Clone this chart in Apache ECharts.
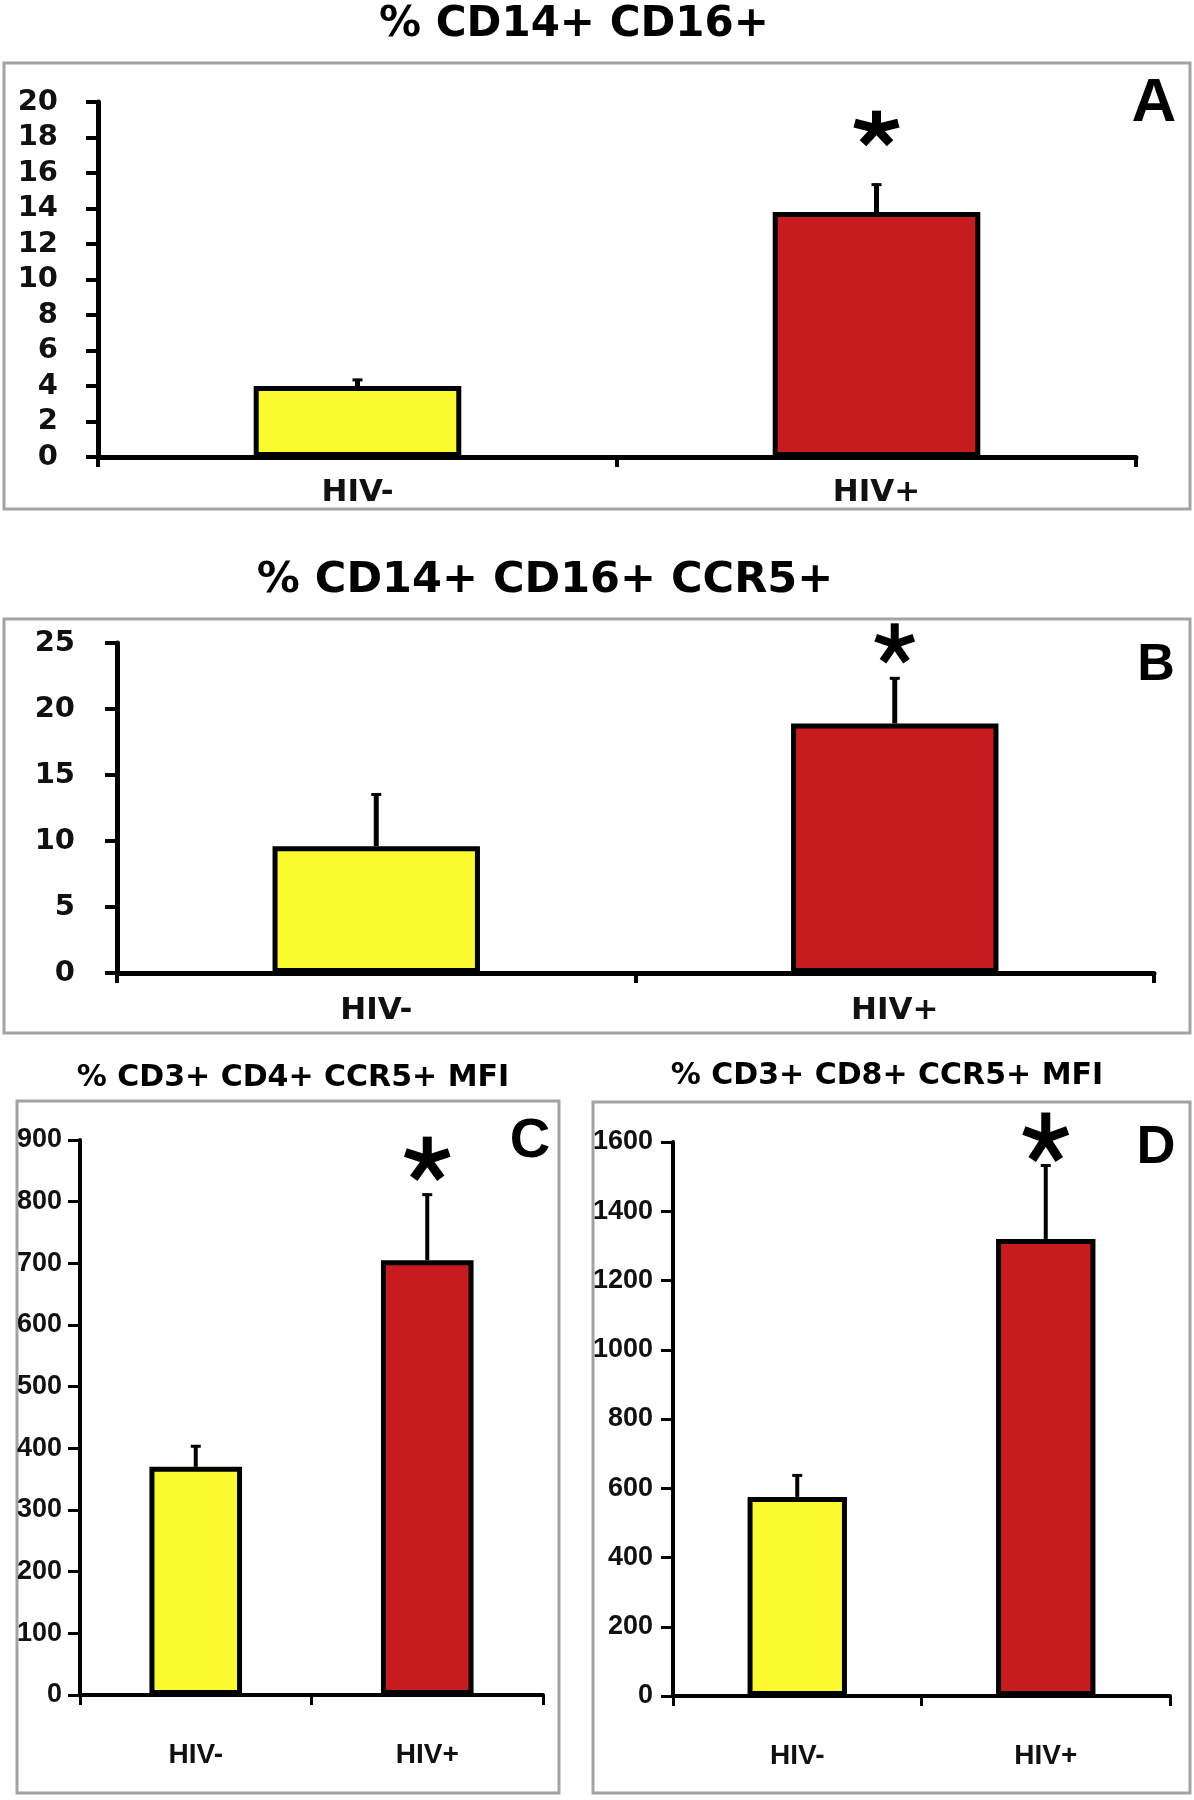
<!DOCTYPE html>
<html>
<head>
<meta charset="utf-8">
<script src="https://cdn.jsdelivr.net/npm/echarts@6/dist/echarts.min.js"></script>
<style>
  html, body { margin: 0; padding: 0; background: #ffffff; }
  #chart { width: 1194px; height: 1800px; }
</style>
</head>
<body>
<div id="chart"></div>
<script>
// ---------------- data ----------------
const categories = ['HIV-', 'HIV+'];
const significant = [false, true];

const titleA = '% CD14+ CD16+';
const meanA = [4.0, 13.8];
const errA = [0.4, 1.6];
const ticksA = [0, 2, 4, 6, 8, 10, 12, 14, 16, 18, 20];

const titleB = '% CD14+ CD16+ CCR5+';
const meanB = [9.6, 18.9];
const errB = [4.0, 3.5];
const ticksB = [0, 5, 10, 15, 20, 25];

const titleC = '% CD3+ CD4+ CCR5+ MFI';
const meanC = [370, 705];
const errC = [35, 108];
const ticksC = [0, 100, 200, 300, 400, 500, 600, 700, 800, 900];

const titleD = '% CD3+ CD8+ CCR5+ MFI';
const meanD = [575, 1320];
const errD = [65, 215];
const ticksD = [0, 200, 400, 600, 800, 1000, 1200, 1400, 1600];

const barColors = ['#fafa2e', '#c81b1d'];

// ---------------- layout ----------------
const WIDE = '"DejaVu Sans", "Liberation Sans", sans-serif';
const NARROW = '"Liberation Sans Narrow", "Liberation Sans", Arial, sans-serif';
const LETTER = '"Liberation Sans", Arial, sans-serif';

const panels = [
  { letter: 'A', title: titleA, mean: meanA, err: errA, ticks: ticksA,
    grid: { left: 98, top: 102, width: 1038, height: 355 },
    box: [4, 63, 1186, 446], titlePos: [574, 25], titleFont: 'bold 42px ' + WIDE,
    letterPos: [1154, 104], letterFont: 'bold 62px ' + LETTER,
    tickFont: WIDE, tickSize: 29, tickMargin: 40, catFont: WIDE, catSize: 31, catMargin: 20,
    lineW: 5, starGap: 55, starRx: 23, starRy: 18, starW: 9 },
  { letter: 'B', title: titleB, mean: meanB, err: errB, ticks: ticksB,
    grid: { left: 117, top: 643, width: 1037, height: 330 },
    box: [4, 619, 1186, 414], titlePos: [545, 581], titleFont: 'bold 43px ' + WIDE,
    letterPos: [1156, 666], letterFont: 'bold 52px ' + LETTER,
    tickFont: WIDE, tickSize: 29, tickMargin: 42, catFont: WIDE, catSize: 31, catMargin: 22,
    lineW: 5, starGap: 33, starRx: 20, starRy: 21, starW: 8 },
  { letter: 'C', title: titleC, mean: meanC, err: errC, ticks: ticksC,
    grid: { left: 80, top: 1140, width: 463, height: 555 },
    box: [17, 1101, 542, 692], titlePos: [293, 1078], titleFont: 'bold 30px ' + WIDE,
    letterPos: [530, 1142], letterFont: 'bold 56px ' + LETTER,
    tickFont: NARROW, tickSize: 27, tickMargin: 18, catFont: NARROW, catSize: 28, catMargin: 46,
    lineW: 4, starGap: 34, starRx: 23, starRy: 23, starW: 9 },
  { letter: 'D', title: titleD, mean: meanD, err: errD, ticks: ticksD,
    grid: { left: 673, top: 1142, width: 497, height: 554 },
    box: [593, 1102, 597, 691], titlePos: [887, 1076], titleFont: 'bold 30px ' + WIDE,
    letterPos: [1156, 1148], letterFont: 'bold 54px ' + LETTER,
    tickFont: NARROW, tickSize: 27, tickMargin: 20, catFont: NARROW, catSize: 28, catMargin: 46,
    lineW: 4, starGap: 26, starRx: 23, starRy: 26, starW: 9 }
];

// ---------------- build option ----------------
const grids = [], xAxes = [], yAxes = [], series = [], graphics = [];

panels.forEach((p, i) => {
  graphics.push({
    type: 'rect', z: -10, silent: true,
    shape: { x: p.box[0], y: p.box[1], width: p.box[2], height: p.box[3] },
    style: { fill: '#ffffff', stroke: '#a3a3a3', lineWidth: 3 }
  });
  graphics.push({
    type: 'text', z: 10, silent: true,
    style: { x: p.titlePos[0], y: p.titlePos[1], text: p.title, font: p.titleFont, fill: '#000',
             textAlign: 'center', textVerticalAlign: 'middle', align: 'center', verticalAlign: 'middle' }
  });
  graphics.push({
    type: 'text', z: 10, silent: true,
    style: { x: p.letterPos[0], y: p.letterPos[1], text: p.letter, font: p.letterFont, fill: '#000',
             textAlign: 'center', textVerticalAlign: 'middle', align: 'center', verticalAlign: 'middle' }
  });

  grids.push(Object.assign({ containLabel: false }, p.grid));
  const axisLine = { show: true, onZero: false, lineStyle: { color: '#000', width: p.lineW } };
  xAxes.push({
    type: 'category', gridIndex: i, data: categories, boundaryGap: true,
    axisLine: axisLine,
    axisTick: { show: true, alignWithLabel: false, length: 10, lineStyle: { color: '#000', width: p.lineW - 1 } },
    axisLabel: { margin: p.catMargin, color: '#111', fontFamily: p.catFont, fontWeight: 'bold', fontSize: p.catSize },
    splitLine: { show: false }
  });
  const t = p.ticks;
  yAxes.push({
    type: 'value', gridIndex: i, min: t[0], max: t[t.length - 1], interval: t[1] - t[0],
    axisLine: axisLine,
    axisTick: { show: true, length: 12, lineStyle: { color: '#000', width: p.lineW - 1 } },
    axisLabel: { margin: p.tickMargin, color: '#111', fontFamily: p.tickFont, fontWeight: 'bold', fontSize: p.tickSize,
                 formatter: function (v) { return String(v); } },
    splitLine: { show: false }
  });
  series.push({
    type: 'bar', xAxisIndex: i, yAxisIndex: i, barWidth: '40%', z: 2,
    data: p.mean.map((v, k) => ({ value: v, itemStyle: { color: barColors[k] } })),
    itemStyle: { borderColor: '#000', borderWidth: 5 },
    silent: true, animation: false
  });
  const starGap = p.starGap, rx = p.starRx, ry = p.starRy, sw = p.starW, lw = p.lineW;
  series.push({
    type: 'custom', xAxisIndex: i, yAxisIndex: i, z: 5, silent: true, animation: false,
    data: p.mean.map((v, k) => [k, v, p.err[k], significant[k] ? 1 : 0]),
    renderItem: function (params, api) {
      const idx = api.value(0), m = api.value(1), e = api.value(2), sig = api.value(3);
      const base = api.coord([idx, m]);
      const top = api.coord([idx, m + e]);
      const children = [
        { type: 'line', shape: { x1: base[0], y1: base[1], x2: top[0], y2: top[1] },
          style: { stroke: '#000', lineWidth: lw } },
        { type: 'line', shape: { x1: top[0] - 5, y1: top[1] + 1, x2: top[0] + 5, y2: top[1] + 1 },
          style: { stroke: '#000', lineWidth: 3 } }
      ];
      if (sig) {
        const cx = top[0], cy = top[1] - starGap;
        for (let a = 0; a < 5; a++) {
          const th = a * 2 * Math.PI / 5;
          children.push({
            type: 'line',
            shape: { x1: cx, y1: cy, x2: cx + rx * Math.sin(th), y2: cy - ry * Math.cos(th) },
            style: { stroke: '#000', lineWidth: sw, lineCap: 'butt' }
          });
        }
      }
      return { type: 'group', children: children };
    }
  });
});

const chart = echarts.init(document.getElementById('chart'), null, { renderer: 'canvas' });
chart.setOption({
  animation: false,
  backgroundColor: '#ffffff',
  grid: grids,
  xAxis: xAxes,
  yAxis: yAxes,
  series: series,
  graphic: graphics
});
</script>
</body>
</html>
